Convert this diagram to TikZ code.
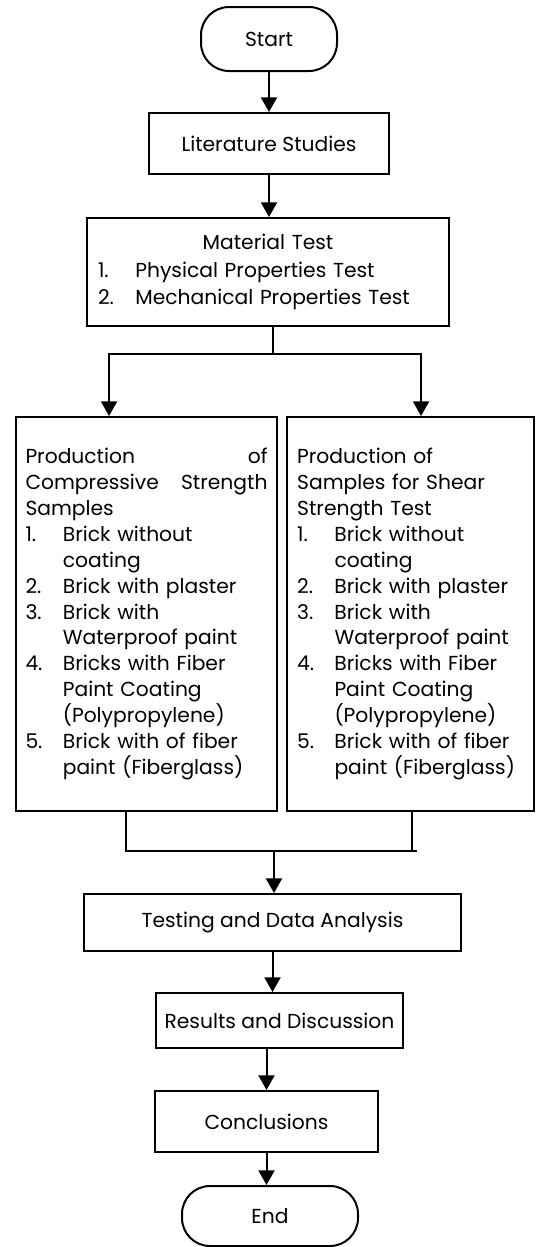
\documentclass[tikz,border=0pt]{standalone}
\usepackage{fontspec}
\setmainfont{Poppins}
\usetikzlibrary{arrows.meta,calc,positioning}
\newcommand{\itm}[2]{\makebox[28pt][l]{#1}#2}
\newcommand{\cnt}[1]{\hspace*{28pt}#1}

\begin{document}
\begin{tikzpicture}[x=0.75pt,y=-0.75pt,line width=1.5pt,
  font=\fontsize{15.2pt}{19.4pt}\selectfont,
  >={Triangle[width=12pt,length=11pt]},
  term/.style={draw,rounded corners=21pt,inner sep=0pt},
  proc/.style={draw,inner sep=0pt,align=center},
  list/.style={draw,inner sep=0pt,align=left}]
\useasboundingbox (0,0) rectangle (536,1247);
\node[term,minimum width=102pt,minimum height=48pt] (start) at (269,39) {Start};
\node[proc,minimum width=180pt,minimum height=45.75pt] (lit) at (269,143.5) {Literature Studies};
\node[list,text width=255pt,minimum width=271.5pt,minimum height=81pt] (mat) at (268,272)
  {\makebox[\linewidth]{Material Test}\\[1.5pt]
   \itm{1.}{Physical Properties Test}\\[1.5pt]
   \itm{2.}{Mechanical Properties Test}};
\node[list,text width=181.5pt,minimum width=195.75pt,minimum height=295.5pt] (comp) at (146.5,614)
  {\makebox[\linewidth][l]{Production\hfill of}\\
   \makebox[\linewidth][l]{Compressive\hfill Strength}\\
   Samples\\
   \itm{1.}{Brick without}\\
   \cnt{coating}\\
   \itm{2.}{Brick with plaster}\\
   \itm{3.}{Brick with}\\
   \cnt{Waterproof paint}\\
   \itm{4.}{Bricks with Fiber}\\
   \cnt{Paint Coating}\\
   \cnt{(Polypropylene)}\\
   \itm{5.}{Brick with of fiber}\\
   \cnt{paint (Fiberglass)}};
\node[list,text width=170pt,minimum width=185.25pt,minimum height=295.5pt] (shear) at (410.5,614)
  {Production of\\
   Samples for Shear\\
   Strength Test\\
   \itm{1.}{Brick without}\\
   \cnt{coating}\\
   \itm{2.}{Brick with plaster}\\
   \itm{3.}{Brick with}\\
   \cnt{Waterproof paint}\\
   \itm{4.}{Bricks with Fiber}\\
   \cnt{Paint Coating}\\
   \cnt{(Polypropylene)}\\
   \itm{5.}{Brick with of fiber}\\
   \cnt{paint (Fiberglass)}};
\node[proc,minimum width=282.75pt,minimum height=42.75pt] (test) at (272.5,922.5) {Testing and Data Analysis};
\node[proc,minimum width=185.25pt,minimum height=41.25pt] (res) at (279.5,1020.5) {Results and Discussion};
\node[proc,minimum width=167.25pt,minimum height=45.75pt] (concl) at (266.5,1121.5) {Conclusions};
\node[term,minimum width=132pt,minimum height=45pt] (end) at (270,1216) {End};
% connectors
\coordinate (split) at ($(mat.south)+(5,27)$);
\coordinate (merge) at (274,851);
\draw[->] (start.south) -- (lit.north);
\draw[->] (lit.south) -- (lit.south |- mat.north);
\draw (split |- mat.south) -- (split);
\draw[->] (split) -| ([xshift=-28.1pt]comp.north);
\draw[->] (split) -| ([xshift=7.9pt]shear.north);
\draw ([xshift=-15.4pt]comp.south) |- ($(merge)+(143,0)$);
\draw ([xshift=1.1pt]shear.south) -- ([xshift=1.1pt]shear.south |- merge);
\draw[->] (merge) -- (merge |- test.north);
\draw[->] (test.south) -- (test.south |- res.north);
\draw[->] (concl.north |- res.south) -- (concl.north);
\draw[->] (concl.south) -- (concl.south |- end.north);
\end{tikzpicture}
\end{document}
